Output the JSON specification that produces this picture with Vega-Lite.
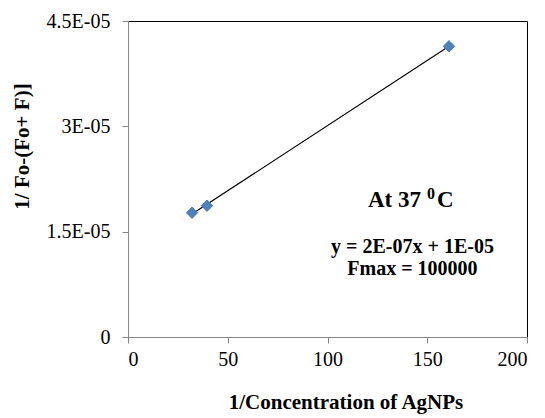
{
  "$schema": "https://vega.github.io/schema/vega-lite/v6.json",
  "width": 399,
  "height": 316,
  "autosize": "none",
  "padding": {"left": 128, "top": 21, "right": 18, "bottom": 81},
  "background": "white",
  "config": {
    "view": {"stroke": "black", "strokeWidth": 1},
    "font": "Liberation Serif, Times New Roman, serif",
    "axis": {
      "grid": false,
      "domainColor": "#868686",
      "tickColor": "#868686",
      "tickSize": 6,
      "labelFont": "Liberation Serif, Times New Roman, serif",
      "labelFontSize": 20,
      "labelColor": "black",
      "titleFont": "Liberation Serif, Times New Roman, serif",
      "titleFontWeight": "bold",
      "titleFontSize": 21,
      "titleColor": "black"
    },
    "text": {"font": "Liberation Serif, Times New Roman, serif"}
  },
  "datasets": {
    "points": [
      {"x": 32.1, "y": 0.0000177},
      {"x": 39.6, "y": 0.0000187},
      {"x": 160.9, "y": 0.0000414}
    ],
    "heading": [
      {"x": 120.3, "y": 0.00001851, "label": "At 37", "size": "big"},
      {"x": 149.9, "y": 0.00001965, "label": "0", "size": "sup"},
      {"x": 154.9, "y": 0.00001851, "label": "C", "size": "big"}
    ],
    "notes": [
      {"x": 142.6, "y": 0.00001196, "label": "y = 2E-07x + 1E-05"},
      {"x": 142.6, "y": 0.00000883, "label": "Fmax = 100000"}
    ]
  },
  "encoding": {
    "x": {
      "field": "x",
      "type": "quantitative",
      "scale": {"domain": [0, 200], "nice": false, "zero": true},
      "axis": {
        "values": [0, 50, 100, 150, 200],
        "title": "1/Concentration of  AgNPs",
        "labelPadding": 6,
        "titleX": 217.5,
        "titleY": 71,
        "titleBaseline": "alphabetic"
      }
    },
    "y": {
      "field": "y",
      "type": "quantitative",
      "scale": {"domain": [0, 0.000045], "nice": false, "zero": true},
      "axis": {
        "values": [0, 0.000015, 0.00003, 0.000045],
        "labelExpr": "datum.value == 0 ? '0' : replace(upper(format(datum.value, '~e')), 'E-', 'E-0')",
        "labelPadding": 12,
        "title": "1/ Fo-(Fo+ F)]",
        "titleX": -106,
        "titleY": 125,
        "titleBaseline": "middle"
      }
    }
  },
  "layer": [
    {
      "data": {"name": "points"},
      "transform": [{"regression": "y", "on": "x"}],
      "mark": {"type": "line", "color": "black", "strokeWidth": 1.2}
    },
    {
      "data": {"name": "points"},
      "mark": {"type": "point", "shape": "diamond", "filled": true, "color": "#4F81BD", "stroke": "#3F6FA8", "strokeWidth": 0.8, "size": 130, "opacity": 1}
    },
    {
      "data": {"name": "heading"},
      "mark": {"type": "text", "align": "left", "baseline": "alphabetic", "fontWeight": "bold", "font": "Liberation Serif, Times New Roman, serif", "color": "black"},
      "encoding": {
        "text": {"field": "label"},
        "size": {"field": "size", "type": "nominal", "scale": {"domain": ["big", "sup"], "range": [23, 16]}, "legend": null}
      }
    },
    {
      "data": {"name": "notes"},
      "mark": {"type": "text", "align": "center", "baseline": "alphabetic", "fontWeight": "bold", "fontSize": 20, "font": "Liberation Serif, Times New Roman, serif", "color": "black"},
      "encoding": {"text": {"field": "label"}}
    }
  ]
}
